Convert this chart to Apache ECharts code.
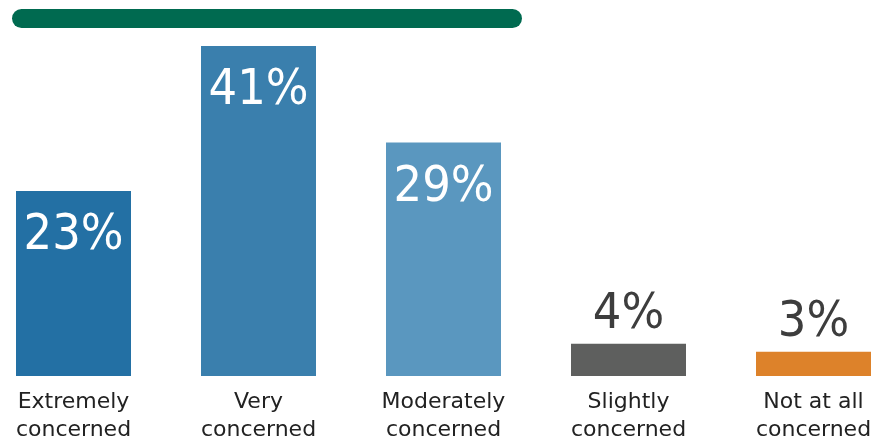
<!DOCTYPE html>
<html><head><meta charset="utf-8">
<script src="https://cdn.jsdelivr.net/npm/echarts@6/dist/echarts.min.js"></script>
<style>html,body{margin:0;padding:0;background:#fff}#c{width:876px;height:441px}</style>
</head><body><div id="c"></div>
<script>
const categories = ['Extremely\nconcerned', 'Very\nconcerned', 'Moderately\nconcerned', 'Slightly\nconcerned', 'Not at all\nconcerned'];
const values = [23, 41, 29, 4, 3];
const colors = ['#2370a4', '#3a7fad', '#5a97bf', '#5e5f5e', '#dd822a'];
const insideLabel = [true, true, true, false, false];

const chart = echarts.init(document.getElementById('c'));
chart.setOption({
  animation: false,
  grid: { left: -19, right: -30, top: 46, bottom: 65, containLabel: false, outerBoundsMode: 'none' },
  graphic: [{
    type: 'rect', left: 12, top: 9,
    shape: { width: 510, height: 19, r: 9.5 },
    style: { fill: '#006a50' }
  }],
  xAxis: {
    type: 'category', data: categories,
    axisLine: { show: false }, axisTick: { show: false },
    axisLabel: { margin: 12, color: '#222', fontSize: 22, lineHeight: 28, fontFamily: 'DejaVu Sans', interval: 0 }
  },
  yAxis: { type: 'value', min: 0, max: 41, show: false, splitLine: { show: false } },
  series: [{
    type: 'bar', barWidth: 115, clip: false,
    data: values.map((v, i) => ({
      value: v,
      itemStyle: { color: colors[i] },
      label: insideLabel[i]
        ? { show: true, position: 'insideTop', distance: 20, color: '#fff' }
        : { show: true, position: 'top', distance: 4, color: '#3d3d3d' }
    })),
    label: { show: true, formatter: '{c}%', fontSize: 50, fontFamily: 'DejaVu Sans Condensed', fontWeight: 'normal' }
  }]
});
</script></body></html>
